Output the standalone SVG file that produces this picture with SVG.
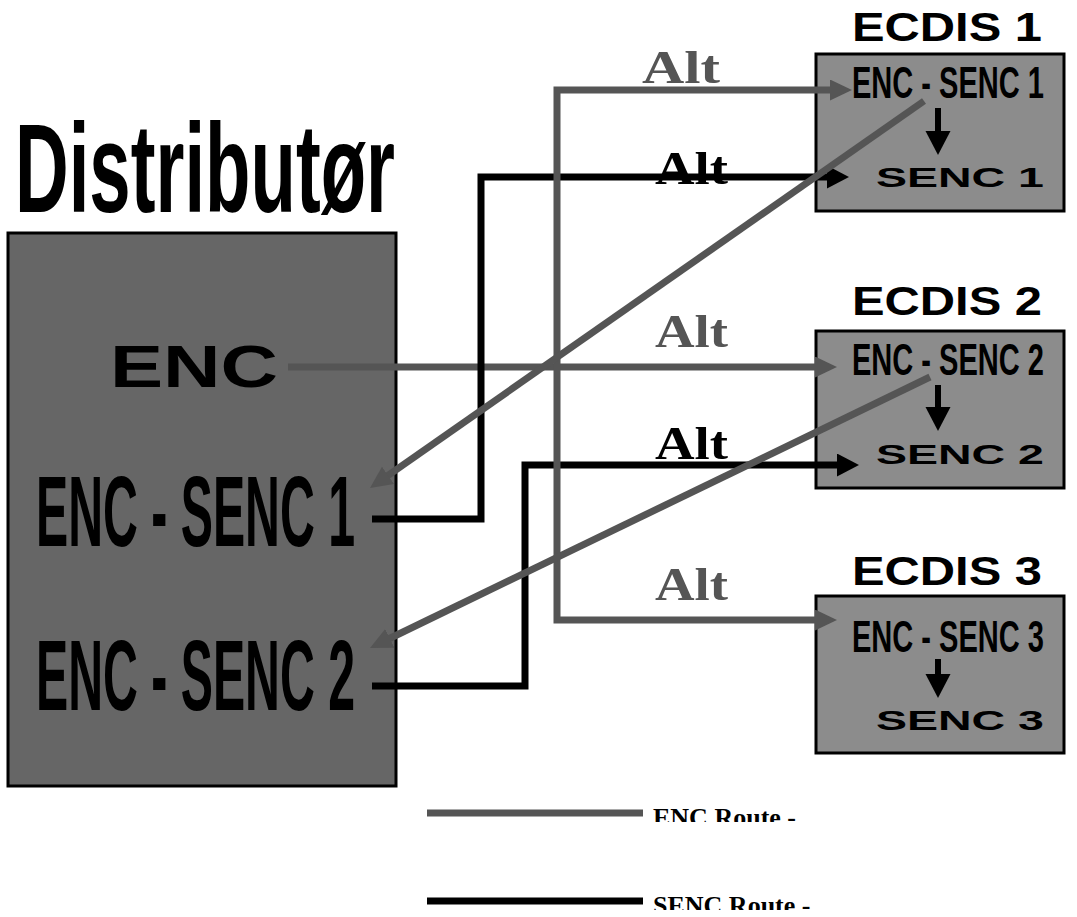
<svg xmlns="http://www.w3.org/2000/svg" width="1077" height="917" viewBox="0 0 1077 917">
<style>
.sans{font-family:"Liberation Sans",Arial,sans-serif;font-weight:bold;fill:#000}
.serif{font-family:"Liberation Serif","Times New Roman",serif;font-weight:bold}
.ecdis{fill:#8c8c8c;stroke:#000;stroke-width:3}
.dist{fill:#666;stroke:#000;stroke-width:3}
.g{fill:none;stroke:#555;stroke-width:7}
.b{fill:none;stroke:#000;stroke-width:7}
</style>
<defs>
<marker id="ag" markerUnits="userSpaceOnUse" markerWidth="24" markerHeight="22" refX="6" refY="10.5" orient="auto-start-reverse"><path d="M0,0 L22,10.5 L0,21 z" fill="#555"/></marker>
<marker id="ab" markerUnits="userSpaceOnUse" markerWidth="24" markerHeight="24" refX="6" refY="11.5" orient="auto"><path d="M0,0 L22,11.5 L0,23 z" fill="#000"/></marker>
<marker id="ad" markerUnits="userSpaceOnUse" markerWidth="26" markerHeight="26" refX="4" refY="12.5" orient="auto"><path d="M0,0 L24,12.5 L0,25 z" fill="#000"/></marker>
<clipPath id="c1"><rect x="640" y="790" width="300" height="32"/></clipPath>
<clipPath id="c2"><rect x="640" y="878" width="300" height="32"/></clipPath>
</defs>

<g id="distributor">
<text class="sans" x="15" y="212" font-size="126" textLength="380" lengthAdjust="spacingAndGlyphs">Distributør</text>
<rect class="dist" x="8" y="233" width="388" height="553"/>
<text class="sans" x="110" y="387" font-size="59" textLength="168" lengthAdjust="spacingAndGlyphs">ENC</text>
<text class="sans" x="36" y="546" font-size="100" textLength="319" lengthAdjust="spacingAndGlyphs">ENC - SENC 1</text>
<text class="sans" x="36" y="710" font-size="100" textLength="319" lengthAdjust="spacingAndGlyphs">ENC - SENC 2</text>
</g>

<g id="ecdis1">
<text class="sans" x="852" y="41" font-size="41" textLength="190" lengthAdjust="spacingAndGlyphs">ECDIS 1</text>
<rect class="ecdis" x="816" y="54" width="248" height="157"/>
<text class="sans" x="852" y="98" font-size="44" textLength="192" lengthAdjust="spacingAndGlyphs">ENC - SENC 1</text>
<path d="M938,108 V135" stroke="#000" stroke-width="6" marker-end="url(#ad)"/>
<text class="sans" x="876" y="187" font-size="27" textLength="168" lengthAdjust="spacingAndGlyphs">SENC 1</text>
</g>

<g id="ecdis2">
<text class="sans" x="852" y="315" font-size="41" textLength="190" lengthAdjust="spacingAndGlyphs">ECDIS 2</text>
<rect class="ecdis" x="816" y="331" width="248" height="157"/>
<text class="sans" x="852" y="375" font-size="44" textLength="192" lengthAdjust="spacingAndGlyphs">ENC - SENC 2</text>
<path d="M938,385 V411" stroke="#000" stroke-width="6" marker-end="url(#ad)"/>
<text class="sans" x="876" y="464" font-size="27" textLength="168" lengthAdjust="spacingAndGlyphs">SENC 2</text>
</g>

<g id="ecdis3">
<text class="sans" x="852" y="585" font-size="41" textLength="190" lengthAdjust="spacingAndGlyphs">ECDIS 3</text>
<rect class="ecdis" x="816" y="596" width="248" height="157"/>
<text class="sans" x="852" y="652" font-size="44" textLength="192" lengthAdjust="spacingAndGlyphs">ENC - SENC 3</text>
<path d="M938,659 V678" stroke="#000" stroke-width="6" marker-end="url(#ad)"/>
<text class="sans" x="876" y="730" font-size="27" textLength="168" lengthAdjust="spacingAndGlyphs">SENC 3</text>
</g>

<g id="connectors">
<text class="serif" x="642" y="83" font-size="46" fill="#555" textLength="78" lengthAdjust="spacingAndGlyphs">Alt</text>
<text class="serif" x="655" y="184" font-size="46" fill="#000" textLength="73" lengthAdjust="spacingAndGlyphs">Alt</text>
<text class="serif" x="655" y="347" font-size="46" fill="#555" textLength="73" lengthAdjust="spacingAndGlyphs">Alt</text>
<text class="serif" x="655" y="459" font-size="46" fill="#000" textLength="73" lengthAdjust="spacingAndGlyphs">Alt</text>
<text class="serif" x="655" y="600" font-size="46" fill="#555" textLength="73" lengthAdjust="spacingAndGlyphs">Alt</text>
<path class="g" d="M288,367 H821" marker-end="url(#ag)"/>
<path class="b" d="M372,519 H481 V177 H833" marker-end="url(#ab)"/>
<path class="b" d="M372,686 H525 V465 H843" marker-end="url(#ab)"/>
<path class="g" d="M836,90 H557 V620 H821" marker-start="url(#ag)" marker-end="url(#ag)"/>
<path class="g" d="M924,101 L383.1,478.8" marker-end="url(#ag)"/>
<path class="g" d="M930,377 L384.4,641" marker-end="url(#ag)"/>
</g>

<g id="legend">
<path class="g" d="M427,813 H643"/>
<text class="serif" x="653" y="826" font-size="26" fill="#000" clip-path="url(#c1)">ENC Route -</text>
<path class="b" d="M427,901 H643"/>
<text class="serif" x="653" y="914" font-size="26" fill="#000" clip-path="url(#c2)">SENC Route -</text>
</g>
</svg>
